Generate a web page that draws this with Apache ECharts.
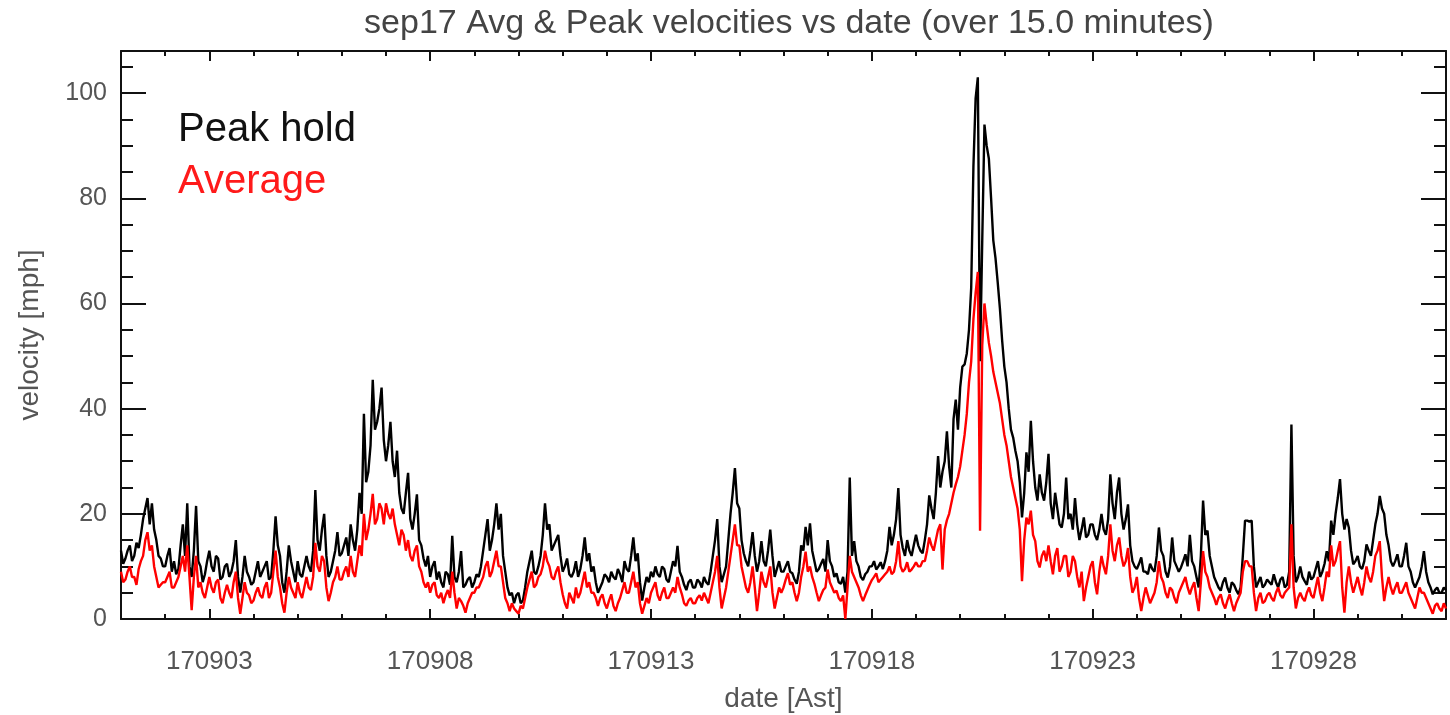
<!DOCTYPE html>
<html>
<head>
<meta charset="utf-8">
<title>sep17 velocities</title>
<script src="https://cdn.jsdelivr.net/npm/echarts@6/dist/echarts.min.js"></script>
<style>
  html, body { margin: 0; padding: 0; background: #fff; }
  #chart { width: 1450px; height: 715px; }
</style>
</head>
<body>
<div id="chart"></div>
<script>
// time axis: day of month, one sample every 0.05 day starting 1 Sep
var startDay = 1;
var stepDay = 0.05;

// date tick labels (major) and every-day minor ticks
var majorDays = [3, 8, 13, 18, 23, 28];
var minorDays = [1, 2, 4, 5, 6, 7, 9, 10, 11, 12, 14, 15, 16, 17, 19, 20, 21, 22, 24, 25, 26, 27, 29, 30, 31];
var majorVel = [0, 20, 40, 60, 80, 100];
var minorVel = [5, 10, 15, 25, 30, 35, 45, 50, 55, 65, 70, 75, 85, 90, 95, 105];

// peak hold [mph], one row per day
var peakHold = [
  13, 10.5, 11.5, 13, 14, 11, 12, 14.5, 13.5, 16, 19, 21, 23, 18, 22, 17, 15, 12, 11.5, 10,
  10, 12, 13.5, 9, 11, 8.5, 9.5, 14, 18, 12, 22, 10, 8, 13, 21.5, 11, 10, 7, 8.5, 11,
  13, 10, 9, 12, 11.5, 7.5, 8, 10, 10.5, 8, 9, 11, 15, 8, 5, 8, 12, 9, 8, 6.5,
  7, 9, 11, 8, 9, 10, 11, 7.5, 8, 13, 19.5, 14, 12, 7, 5, 9, 14, 11, 9, 7,
  11, 8.5, 8, 10, 12, 10, 9, 13, 24.5, 15, 13, 17, 20, 12, 8, 9, 11, 13, 16.5, 12,
  12.5, 14, 15.5, 12, 18, 15, 13, 17, 24, 20, 39, 26, 28, 33, 45.5, 36, 37.5, 40, 44, 34,
  30, 33, 37.5, 30, 27, 32, 24, 21, 20, 24, 27.8, 19, 17, 20, 23.7, 15, 14, 11.5, 10, 12,
  8, 10, 11, 7.5, 9, 7, 6, 9, 8.5, 6.5, 15.8, 8, 7, 9, 12.9, 6, 6.5, 7.5, 8, 6,
  7, 8.5, 8, 10, 13, 16, 19, 13, 15, 18, 22, 17, 20, 12, 9, 6, 4.5, 5, 3, 4.5,
  5, 3, 3.5, 6, 9, 11, 13, 9, 8.5, 10, 12, 16, 22, 17, 18, 13, 14, 15, 16, 12,
  9, 10, 11.5, 8.5, 8, 9, 11, 8, 9.5, 12, 15.5, 11, 12.5, 9, 10, 7, 5, 6, 7, 8.5,
  8, 7, 9, 8, 7.5, 9.5, 8.5, 7, 11, 9.5, 9, 12, 15.5, 11, 12.5, 7, 3.5, 6, 8, 7,
  9, 8, 10, 8.5, 8, 10, 9.5, 7.5, 7, 9, 11, 10, 13.9, 9, 8, 6.5, 5.5, 7, 7.5, 6,
  6, 7.5, 7, 6, 8, 7, 6.5, 9, 12, 15, 19, 10, 7, 8.5, 10, 15, 20, 24, 28.7, 22,
  21, 15, 12.5, 11, 10, 13, 16.5, 12, 9, 11, 14.8, 11, 10, 13, 17, 12, 8, 9.5, 11, 9,
  9, 10, 11, 9, 8.7, 7.5, 6.7, 9, 14, 13, 17.5, 14, 18.2, 13, 11, 9, 9.5, 10.5, 11.4, 9,
  15, 11, 10, 8, 8.7, 7, 6.7, 8, 5, 9, 26.9, 12, 14.8, 11, 10, 8, 7.4, 8.5, 9, 10,
  10, 11, 9.4, 10, 10.8, 9.5, 11, 13, 17.5, 14, 16, 19, 24.9, 16, 13.5, 12, 15, 13, 12, 14,
  16, 14, 13, 12.5, 15, 18, 23.5, 21, 19, 24, 31, 25, 28, 30, 35.7, 29, 25, 38, 41.7, 36,
  44, 48, 48.4, 50.5, 55, 63, 86, 99, 103, 49, 72, 94, 90, 87.5, 80, 72, 68.6, 64, 59, 53,
  48, 45, 40, 36, 34.5, 32, 30, 26, 19.3, 24, 31.7, 28, 37.7, 30, 25, 22.5, 27.5, 24, 22.5, 26,
  31.4, 22, 19, 24, 21, 18, 17.4, 20, 26.9, 19, 20, 17, 23, 18, 15, 17, 19.3, 15.5, 16, 18,
  18, 16, 15, 17, 20, 17, 16, 19, 27.5, 22, 19, 24, 26.9, 20, 17, 19, 21.8, 14, 11, 10,
  9.5, 10.5, 11.7, 9, 9, 8.5, 10.5, 9.5, 9, 12, 17.4, 13, 12, 9, 7.9, 10, 15.5, 11, 10, 9,
  9.8, 11, 12.3, 10, 16, 11, 10, 8, 6, 12, 22.5, 16, 16.8, 12, 10, 8, 7, 6, 5.4, 7,
  7.9, 6, 5, 7, 6.5, 5.5, 4.7, 6, 12, 18.7, 18.7, 18.5, 18.7, 10, 6, 7, 8, 6, 6.5, 7.5,
  7, 6.5, 8.5, 7, 6, 7.5, 8, 6, 6.5, 9, 37, 12, 7, 8, 10, 8, 7.2, 6.5, 9, 7.5,
  8, 9.5, 11, 8, 9, 10.5, 12.9, 11, 18.7, 16, 20, 23, 26.6, 20, 17, 19, 17.4, 13, 10.4, 11,
  12, 10, 9.5, 11, 14.2, 13, 12, 15, 18, 20, 23.4, 21, 20, 16, 14, 11, 10, 11, 12.3, 10,
  10, 12, 14.5, 10, 9, 7, 6, 7, 8, 10, 12.9, 9, 7, 6, 4.7, 5.5, 6, 5, 5, 6,
  5.5
];

// average [mph], same sampling
var average = [
  9, 7, 7.5, 9, 10, 8, 8, 6.5, 9.5, 11, 12, 15, 16.5, 13, 14, 10, 8, 6, 6.5, 7,
  7, 8, 9, 6, 6, 7, 8, 10, 12, 9, 14, 8, 1.7, 8, 12, 6, 7, 5, 4, 6,
  8, 6, 5, 7, 7.5, 4, 3, 5, 6.5, 5, 4, 7, 9, 4, 1, 4, 7, 5, 4.5, 3,
  3.5, 5, 6, 4.5, 4, 6, 7, 4, 5, 9, 13, 8, 6, 3, 1.2, 5, 8, 6, 5, 4,
  7, 5, 4, 6, 8, 6, 5.5, 8, 14.5, 10, 9, 12, 11, 6, 3.4, 5, 7, 8, 10, 7.5,
  7.5, 9, 10, 8, 12, 9, 8, 11, 14, 12, 20, 15, 17, 20, 23.8, 18, 19, 22, 21, 18,
  22, 20, 19, 21, 18, 16, 14, 17, 16, 13, 15, 12, 11, 13, 14, 10, 9, 7, 6, 7,
  5, 6.5, 7, 4.5, 4, 5, 3, 4.5, 5.5, 4, 9, 5, 2, 4, 3.4, 2.5, 1.2, 3, 4, 5,
  5, 6, 6, 7, 8, 10, 11, 8, 9, 11, 13, 10, 10, 7, 4, 3, 1.5, 3, 2, 1.5,
  1, 2.5, 2, 4, 6, 7.5, 9, 6, 6.5, 8, 8.5, 10, 13, 11, 10, 8, 7.5, 9, 10, 7,
  4.7, 3, 2, 5, 4, 3, 6, 4, 5, 7, 9, 6, 7, 5, 5, 4, 2.5, 4, 4.7, 3,
  2, 3.5, 4.7, 2.5, 1.5, 3, 4, 5.5, 7, 5, 5, 7, 9, 6, 7, 3, 1, 2.5, 4, 3,
  5, 6, 7, 4.5, 3.5, 5, 6, 4, 4, 5, 6, 5, 8, 6, 4.7, 3, 2.5, 3.5, 4, 3,
  3, 4, 4.5, 3.5, 5, 4, 3, 5, 7, 9, 12, 6, 2, 4, 6, 9, 12, 15, 18, 14,
  14, 10, 8, 6, 5, 7, 10, 6, 1.5, 5, 9, 7, 6, 8, 10, 5, 2, 4, 6, 5,
  6, 7.5, 8.7, 6.5, 7, 5, 3.4, 5, 8, 10, 12.8, 9, 10, 8, 6.7, 5, 3.4, 4.5, 5.5, 6,
  9.4, 7, 6, 5, 5.4, 4, 3.4, 4.5, 0, 6, 12, 9, 8, 7, 6, 4.5, 3.4, 4.5, 5.5, 6.5,
  7.4, 8, 8.7, 7, 7.5, 8, 8.5, 9, 10, 8.5, 9, 11, 14.8, 10, 9, 9.5, 10.8, 9, 9.4, 10,
  10.8, 10, 10, 11, 11, 13, 15.5, 14, 13, 15, 17, 18, 9.4, 17, 18.8, 20, 22, 24, 25.6, 27,
  29, 32, 35, 39, 45, 49, 57, 62, 66, 16.8, 52, 60, 56, 52.5, 50, 47, 45, 43, 41, 38,
  35, 33, 30, 27, 25, 23, 21, 17, 7.2, 15, 19.3, 18, 20.6, 16, 14.8, 11, 9.8, 12, 13, 11,
  14, 11, 8.5, 12, 13.5, 9, 10, 12, 12, 8, 9, 12, 11, 8, 6, 9, 3.4, 6, 8, 10,
  11, 7, 4.7, 9, 12, 10, 8.5, 12, 18, 13, 11, 14, 15.5, 12, 10, 11, 13.5, 8, 5, 6,
  8, 4, 1.5, 4, 6, 4.5, 3, 4, 5, 7, 11, 8, 7, 5, 4, 6, 5.5, 4, 3, 5,
  6, 7, 8, 6, 4.7, 6, 7, 4, 1.5, 7, 12.9, 9, 8, 6, 5, 4, 2.7, 4, 4.7, 3,
  2, 3.5, 4.7, 3, 1.5, 3, 4, 5, 9, 11, 11, 10, 10, 5, 1.5, 4, 5, 3, 3.4, 4.5,
  5, 4, 3.4, 5, 6, 4.5, 4, 5, 5.5, 6, 18, 6, 2, 4, 5, 4, 3.4, 5, 6, 4.5,
  4, 6, 8, 5, 3.4, 6, 9, 8, 14, 10, 11, 13, 14.8, 6, 1.2, 7, 10, 7, 5, 6.5,
  8, 6, 4.5, 7, 10, 8, 7, 9, 12, 13, 14.8, 8, 3.4, 6, 8, 6, 4.7, 6, 7, 5,
  5, 6, 7, 5, 4, 3, 2, 4, 6, 5, 5, 4, 3, 2, 1, 2.5, 3, 2, 1.5, 3,
  2
];

function pairs(vals) {
    return vals.map(function (v, i) {
        return [+(startDay + i * stepDay).toFixed(3), v];
    });
}

var font = 'Liberation Sans, Helvetica, Arial, sans-serif';
var axisColor = '#111';

function xAx(pos, ticks, len, labels, line) {
    return {
        type: 'value', position: pos, min: 1, max: 31,
        axisLine: { show: line, onZero: false, lineStyle: { color: axisColor, width: 2 } },
        axisTick: { show: true, inside: true, length: len, customValues: ticks,
                    lineStyle: { color: axisColor, width: 2 } },
        axisLabel: labels ? {
            show: true, customValues: majorDays, margin: 30,
            color: '#555', fontSize: 26, fontFamily: font,
            formatter: function (v) { return '1709' + (v < 10 ? '0' : '') + v; }
        } : { show: false },
        splitLine: { show: false }
    };
}

function yAx(pos, ticks, len, labels, line) {
    return {
        type: 'value', position: pos, min: 0, max: 108,
        axisLine: { show: line, onZero: false, lineStyle: { color: axisColor, width: 2 } },
        axisTick: { show: true, inside: true, length: len, customValues: ticks,
                    lineStyle: { color: axisColor, width: 2 } },
        axisLabel: labels ? {
            show: true, customValues: majorVel, margin: 14,
            color: '#555', fontSize: 25, fontFamily: font
        } : { show: false },
        splitLine: { show: false }
    };
}

var chart = echarts.init(document.getElementById('chart'));

var xMain = xAx('bottom', majorDays, 10, true, true);
xMain.name = 'date [Ast]';
xMain.nameLocation = 'middle';
xMain.nameGap = 66;
xMain.nameTextStyle = { color: '#555', fontSize: 28, fontFamily: font };

var yMain = yAx('left', majorVel, 25, true, true);
yMain.name = 'velocity [mph]';
yMain.nameLocation = 'middle';
yMain.nameGap = 77;
yMain.nameRotate = 90;
yMain.nameTextStyle = { color: '#555', fontSize: 28, fontFamily: font };

chart.setOption({
    animation: false,
    backgroundColor: '#fff',
    title: {
        text: 'sep17 Avg & Peak velocities vs date (over 15.0 minutes)',
        left: 784, top: 2, textAlign: 'center',
        textStyle: { color: '#444', fontSize: 34, fontWeight: 'normal', fontFamily: font }
    },
    legend: {
        orient: 'vertical', left: 168, top: 105,
        icon: 'none', itemWidth: 0, itemHeight: 10, itemGap: 12,
        selectedMode: false,
        textStyle: { fontSize: 40, fontFamily: font },
        data: [
            { name: 'Peak hold', textStyle: { color: '#111' } },
            { name: 'Average', textStyle: { color: '#ff1a1a' } }
        ]
    },
    grid: { left: 121, right: 4, top: 51, bottom: 96, containLabel: false, outerBoundsMode: 'none' },
    xAxis: [
        xMain,
        xAx('bottom', minorDays, 5, false, false),
        xAx('top', majorDays, 10, false, true),
        xAx('top', minorDays, 5, false, false)
    ],
    yAxis: [
        yMain,
        yAx('left', minorVel, 12, false, false),
        yAx('right', majorVel, 25, false, true),
        yAx('right', minorVel, 12, false, false)
    ],
    series: [
        {
            name: 'Peak hold', type: 'line', xAxisIndex: 0, yAxisIndex: 0,
            data: pairs(peakHold), showSymbol: false, sampling: 'none',
            lineStyle: { color: '#000', width: 2.4 }, itemStyle: { color: '#000' }
        },
        {
            name: 'Average', type: 'line', xAxisIndex: 0, yAxisIndex: 0,
            data: pairs(average), showSymbol: false, sampling: 'none',
            lineStyle: { color: '#ff0000', width: 2.4 }, itemStyle: { color: '#ff0000' }
        }
    ]
});
</script>
</body>
</html>
